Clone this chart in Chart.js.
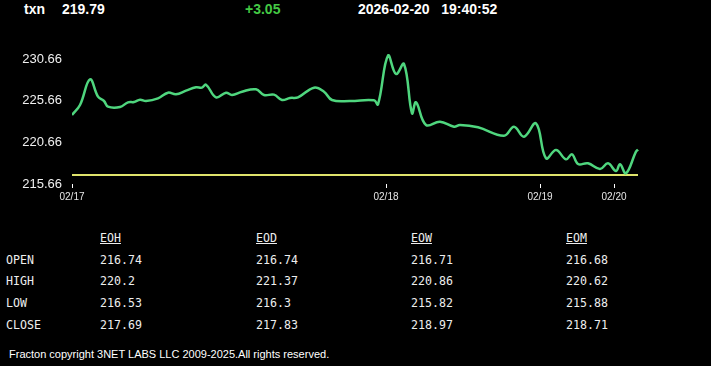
<!DOCTYPE html>
<html>
<head>
<meta charset="utf-8">
<script src="https://cdn.jsdelivr.net/npm/chart.js@4/dist/chart.umd.min.js"></script>
<style>
  body { margin: 0; background: #000; width: 711px; height: 366px; overflow: hidden; position: relative; }
  .hd { position: absolute; top: 1px; line-height: 16px; font: bold 14px "Liberation Sans", Arial, sans-serif; color: #fff; white-space: pre; }
  .cell { position: absolute; font: 11.6px "DejaVu Sans Mono", monospace; color: #eee; line-height: 14px; white-space: pre; }
  .foot { position: absolute; left: 9px; top: 348px; font: 11px "Liberation Sans", Arial, sans-serif; color: #fff; white-space: pre; }
  #graficoTxn { position: absolute; left: 0; top: 0; }
</style>
</head>
<body>
<div class="hd" style="left:24px">txn</div>
<div class="hd" style="left:62px" id="ultimo"></div>
<div class="hd" style="left:245px;color:#44c944" id="variacao"></div>
<div class="hd" style="left:358px">2026-02-20   19:40:52</div>
<canvas id="graficoTxn" width="711" height="215"></canvas>
<div id="tabela"></div>
<div class="foot">Fracton copyright 3NET LABS LLC 2009-2025.All rights reserved.</div>
<script>
// posicao da amostra (barras desde 02/17) e preco
const amostras = [0, 4, 9, 13, 16, 18, 24, 28, 31, 34, 37, 43, 48, 52, 57, 62, 65, 67, 72, 77, 80, 85, 92, 96, 101, 105, 109, 113, 121, 126, 130, 139, 151, 153, 158, 162, 166, 170, 172, 177, 184, 191, 194, 203, 216, 221, 226, 232, 237, 242, 247, 250, 253, 258, 264, 268, 272, 274, 277, 282, 283]
const precos = [223.94, 225.14, 228.22, 226.14, 225.62, 224.94, 224.9, 225.46, 225.5, 225.78, 225.62, 225.94, 226.62, 226.42, 226.86, 227.26, 227.22, 227.58, 226.06, 226.62, 226.34, 226.74, 227.02, 226.34, 226.38, 225.74, 225.98, 226.06, 227.22, 226.74, 225.74, 225.62, 225.7, 225.22, 231.06, 228.86, 230.06, 224.14, 225.46, 222.74, 223.14, 222.54, 222.74, 222.46, 221.46, 222.54, 221.34, 222.94, 218.74, 219.74, 218.62, 219.22, 218.06, 218.14, 217.46, 218.14, 217.22, 218.02, 216.94, 219.54, 219.79]
const abertura = 216.74
const ultimo = 219.79
const variacao = 3.05

const diasPos = [0, 157, 234, 271]
const diasLabels = ['02/17', '02/18', '02/19', '02/20']
const precoTicks = [215.66, 220.66, 225.66, 230.66]

const colunas = ['EOH', 'EOD', 'EOW', 'EOM']
const linhas = ['OPEN', 'HIGH', 'LOW', 'CLOSE']
const eoh = ['216.74', '220.2', '216.53', '217.69']
const eod = ['216.74', '221.37', '216.3', '217.83']
const eow = ['216.71', '220.86', '215.82', '218.97']
const eom = ['216.68', '220.62', '215.88', '218.71']

document.querySelector('#ultimo').textContent = ultimo.toFixed(2)
document.querySelector('#variacao').textContent = '+' + variacao.toFixed(2)

const grafico = document.querySelector('#graficoTxn')

new Chart(grafico, {
  type: 'line',
  data: {
    datasets: [{
      data: amostras.map((x, i) => ({ x: x, y: precos[i] })),
      borderColor: '#4fd67e',
      borderWidth: 2.5,
      pointRadius: 0,
      tension: 0.4
    }, {
      data: [{ x: amostras[0], y: abertura }, { x: amostras[amostras.length - 1], y: abertura }],
      borderColor: '#dfe36b',
      borderWidth: 2,
      pointRadius: 0
    }]
  },
  options: {
    responsive: false,
    animation: false,
    layout: { padding: { top: 50, right: 71, left: 0, bottom: 0 } },
    plugins: { legend: { display: false }, tooltip: { enabled: false } },
    scales: {
      x: {
        type: 'linear',
        min: 0,
        max: 284,
        afterFit: (s) => { s.height = 31 },
        afterBuildTicks: (s) => { s.ticks = diasPos.map(v => ({ value: v })) },
        ticks: {
          autoSkip: false,
          maxRotation: 0,
          padding: 3,
          color: '#e6e6e6',
          font: { family: 'Liberation Sans', size: 10 },
          callback: (v) => diasLabels[diasPos.indexOf(v)]
        },
        grid: { drawOnChartArea: false, tickLength: 4, color: '#fff' },
        border: { display: false }
      },
      y: {
        min: 215.66,
        max: 231.74,
        afterFit: (s) => { s.width = 72 },
        afterBuildTicks: (s) => { s.ticks = precoTicks.map(v => ({ value: v })) },
        ticks: {
          padding: 2,
          color: '#f0f0f0',
          font: { family: 'Liberation Sans', size: 13 },
          callback: (v) => v.toFixed(2)
        },
        grid: { display: false },
        border: { display: false }
      }
    }
  }
})

// tabela de resumo
const tabela = document.querySelector('#tabela')
const colX = [100, 256, 411, 566]
const linhaY = [253, 274, 296, 318]
const valores = [eoh, eod, eow, eom]

function celula(texto, x, y, sublinhado) {
  let d = document.createElement('div')
  d.className = 'cell'
  d.style.left = x + 'px'
  d.style.top = y + 'px'
  if (sublinhado) d.style.textDecoration = 'underline'
  d.textContent = texto
  tabela.appendChild(d)
}

colunas.forEach((c, j) => celula(c, colX[j], 231, true))
linhas.forEach((l, i) => {
  celula(l, 6, linhaY[i])
  valores.forEach((col, j) => celula(col[i], colX[j], linhaY[i]))
})
</script>
</body>
</html>
